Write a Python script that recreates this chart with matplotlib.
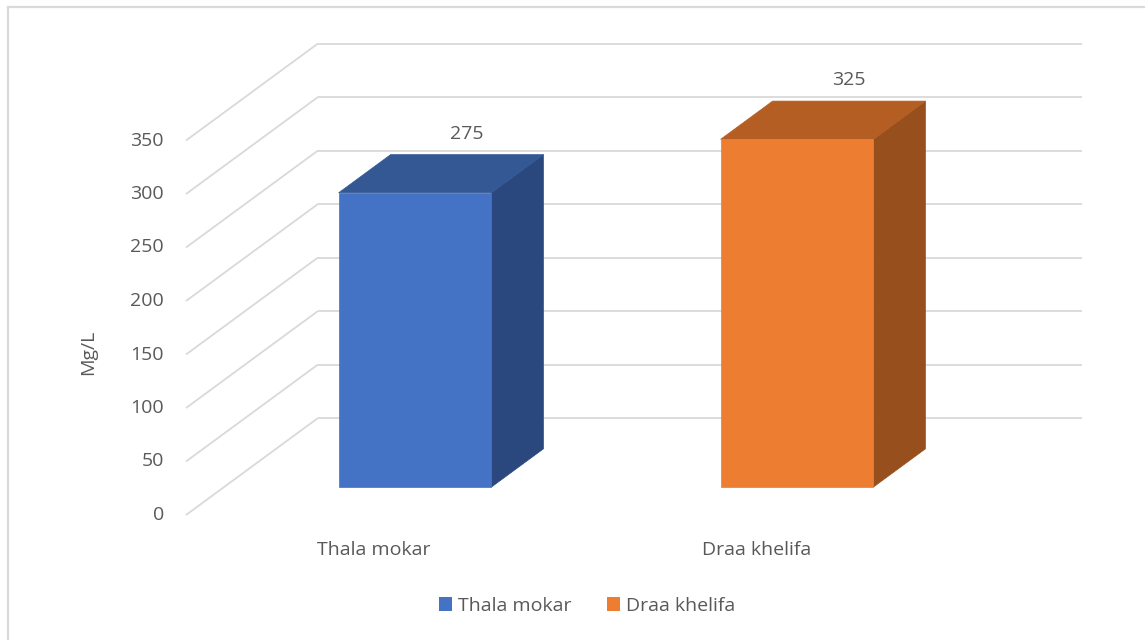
import matplotlib
matplotlib.use("Agg")
import matplotlib.pyplot as plt
from matplotlib.patches import Polygon, Patch
from matplotlib.lines import Line2D

# --- data ---
categories = ["Thala mokar", "Draa khelifa"]
values = [275, 325]
y_ticks = [0, 50, 100, 150, 200, 250, 300, 350]
y_label = "Mg/L"

# --- styling ---
front_colors = ["#4472C4", "#ED7D31"]
top_colors = ["#335894", "#B45E23"]
side_colors = ["#2A487E", "#974F1D"]
grid_color = "#D9D9D9"
text_color = "#595959"
FONT = "Open Sans"
FS = 14

W, H, DPI = 1145, 640, 100

# oblique projection: category units horizontally, value units vertically
PX_PER_CAT = 382.0
PX_PER_VAL = 1.07
ORIGIN_X, ORIGIN_Y = 186.0, 515.0       # front-floor corner, in pixels from top-left
DEPTH_X = 132.0 / PX_PER_CAT            # full depth, horizontal component
DEPTH_Y = 97.0 / PX_PER_VAL             # full depth, vertical component
BAR_W = 0.40
BAR_D0, BAR_D1 = 0.288, 0.682           # bar depth span as fraction of full depth

fig = plt.figure(figsize=(W / DPI, H / DPI), dpi=DPI)
fig.patch.set_facecolor("white")
ax = fig.add_axes([0, 0, 1, 1])
ax.set_xlim(-ORIGIN_X / PX_PER_CAT, (W - ORIGIN_X) / PX_PER_CAT)
ax.set_ylim(-(H - ORIGIN_Y) / PX_PER_VAL, ORIGIN_Y / PX_PER_VAL)
ax.axis("off")

n = len(categories)

# side wall diagonals and back wall gridlines
for t in y_ticks:
    ax.plot([0, DEPTH_X], [t, t + DEPTH_Y], color=grid_color, lw=1.3, zorder=1,
            solid_capstyle="butt")
    ax.plot([DEPTH_X, n + DEPTH_X], [t + DEPTH_Y, t + DEPTH_Y], color=grid_color,
            lw=1.3, zorder=1, solid_capstyle="butt")
    ax.annotate(str(t), (0, t), xytext=(-16, 0), textcoords="offset points",
                ha="right", va="center", fontsize=FS, color=text_color,
                family=FONT)


def proj(x, v, d):
    return (x + d * DEPTH_X, v + d * DEPTH_Y)


for i, (cat, val) in enumerate(zip(categories, values)):
    c = i + 0.5
    x0, x1 = c - BAR_W / 2, c + BAR_W / 2
    front = [proj(x0, 0, BAR_D0), proj(x1, 0, BAR_D0),
             proj(x1, val, BAR_D0), proj(x0, val, BAR_D0)]
    top = [proj(x0, val, BAR_D0), proj(x1, val, BAR_D0),
           proj(x1, val, BAR_D1), proj(x0, val, BAR_D1)]
    side = [proj(x1, 0, BAR_D0), proj(x1, 0, BAR_D1),
            proj(x1, val, BAR_D1), proj(x1, val, BAR_D0)]
    for poly, col in ((side, side_colors[i]), (top, top_colors[i]),
                      (front, front_colors[i])):
        ax.add_patch(Polygon(poly, closed=True, facecolor=col, edgecolor=col,
                             lw=0.5, zorder=3))
    lx, ly = proj(c, val, BAR_D1)
    ax.annotate(str(val), (lx, ly), xytext=(0, 15), textcoords="offset points",
                ha="center", va="center", fontsize=FS, color=text_color,
                family=FONT)
    ax.annotate(cat, (c, 0), xytext=(-2, -25), textcoords="offset points",
                ha="center", va="center", fontsize=FS, color=text_color,
                family=FONT)

# axis title
fig.text(88 / W, 1 - 352 / H, y_label, rotation=90, ha="center", va="center",
         fontsize=FS, color=text_color, family=FONT)

# legend
handles = [Patch(facecolor=front_colors[i], edgecolor="none", label=categories[i])
           for i in range(n)]
leg = fig.legend(handles=handles, loc="center", bbox_to_anchor=(587 / W, 1 - 606 / H),
                 ncol=n, frameon=False, handlelength=0.7, handleheight=0.7,
                 handletextpad=0.3, columnspacing=1.8,
                 prop={"family": FONT, "size": FS})
for txt in leg.get_texts():
    txt.set_color(text_color)

# chart area border (top and left edges)
fig.add_artist(Line2D([8 / W, 1], [1 - 7 / H, 1 - 7 / H], color=grid_color, lw=1.6,
                      transform=fig.transFigure))
fig.add_artist(Line2D([8 / W, 8 / W], [0, 1 - 7 / H], color=grid_color, lw=1.6,
                      transform=fig.transFigure))

fig.savefig("out.png", dpi=DPI, facecolor="white")
